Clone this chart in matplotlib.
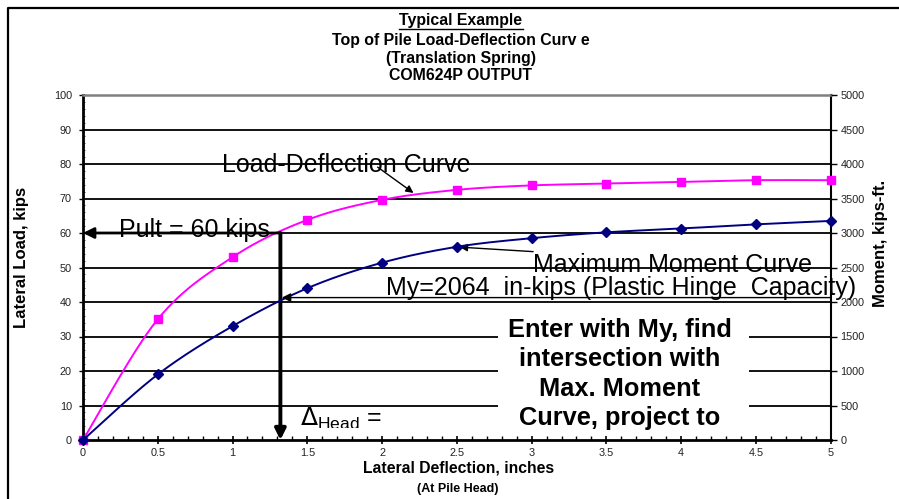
import numpy as np
import matplotlib
matplotlib.use("Agg")
import matplotlib.pyplot as plt
from matplotlib.lines import Line2D
from matplotlib.patches import Rectangle

plt.rcParams['font.family'] = ['Liberation Sans', 'DejaVu Sans']

# Deflection at pile head (inches)
deflection = [0, 0.5, 1.0, 1.5, 2.0, 2.5, 3.0, 3.5, 4.0, 4.5, 5.0]
# Lateral load (kips) - load-deflection curve
lateral_load = [0, 35, 53, 63.8, 69.6, 72.5, 73.8, 74.3, 74.8, 75.3, 75.3]
# Maximum moment (kips-ft) - moment curve, right axis
max_moment = [0, 950, 1650, 2200, 2570, 2800, 2925, 3010, 3065, 3125, 3175]

load_ticks = list(range(0, 101, 10))
moment_ticks = list(range(0, 5001, 500))
defl_ticks = [0, 0.5, 1, 1.5, 2, 2.5, 3, 3.5, 4, 4.5, 5]
defl_tick_labels = ['0', '0.5', '1', '1.5', '2', '2.5', '3', '3.5', '4', '4.5', '5']

p_ult = 60            # kips
defl_at_pult = 1.32   # inches
my_capacity = 2064    # plastic hinge capacity
defl_at_my = 1.33


def smooth(x, y, n=30):
    """Catmull-Rom style smoothing through every point."""
    x = np.asarray(x, float)
    y = np.asarray(y, float)
    px = np.concatenate([[x[0]], x, [x[-1]]])
    py = np.concatenate([[y[0]], y, [y[-1]]])
    xs, ys = [], []
    t = np.linspace(0, 1, n)
    for i in range(1, len(px) - 2):
        p0 = np.array([px[i], py[i]])
        p3 = np.array([px[i + 1], py[i + 1]])
        c1 = p0 + (p3 - np.array([px[i - 1], py[i - 1]])) / 6.0
        c2 = p3 - (np.array([px[i + 2], py[i + 2]]) - p0) / 6.0
        b = ((1 - t) ** 3)[:, None] * p0 + (3 * (1 - t) ** 2 * t)[:, None] * c1 \
            + (3 * (1 - t) * t ** 2)[:, None] * c2 + (t ** 3)[:, None] * p3
        xs.append(b[:, 0])
        ys.append(b[:, 1])
    return np.concatenate(xs), np.concatenate(ys)


W, H = 899, 499
fig = plt.figure(figsize=(W / 100, H / 100), dpi=100)
fig.patch.set_facecolor('white')

# outer frame
fig.add_artist(Line2D([8 / W, 8 / W, 1.0], [0.0, 1 - 8 / H, 1 - 8 / H],
                      transform=fig.transFigure, color='black', lw=1.6))

ax = fig.add_axes([83 / W, 59 / H, 747.7 / W, 345 / H])
ax.set_xlim(0, 5)
ax.set_ylim(0, 100)
ax.set_axisbelow(True)

ax.set_yticks(load_ticks)
ax.set_yticks(np.arange(0, 101, 2), minor=True)
ax.set_xticks(defl_ticks)
ax.set_xticklabels(defl_tick_labels)
ax.set_xticks(np.arange(0, 5.01, 0.1), minor=True)

ax.grid(axis='y', which='major', color='black', lw=1.3)
gl = ax.yaxis.get_gridlines()
gl[0].set_visible(False)
gl[-1].set_visible(False)

tick_color = '#222222'
ax.tick_params(axis='y', which='major', direction='out', length=3, width=1,
               labelsize=7.8, labelcolor=tick_color, pad=5)
ax.tick_params(axis='y', which='minor', direction='in', length=1.5, width=0.7,
               color='#555555')
ax.tick_params(axis='x', which='major', direction='inout', length=6, width=1.2,
               labelsize=7.8, labelcolor=tick_color, pad=3)
ax.tick_params(axis='x', which='minor', direction='in', length=3, width=1)

for side, lw, col in [('left', 2.0, 'black'), ('bottom', 2.0, 'black'),
                      ('right', 1.5, 'black'), ('top', 1.8, '#808080')]:
    ax.spines[side].set_linewidth(lw)
    ax.spines[side].set_color(col)

ax2 = ax.twinx()
ax2.set_ylim(0, 5000)
ax2.set_yticks(moment_ticks)
ax2.tick_params(axis='y', direction='out', length=4, width=1,
                labelsize=7.8, labelcolor=tick_color, pad=3)
for s in ax2.spines.values():
    s.set_visible(False)

# curves
sx, sy = smooth(deflection, lateral_load)
ax.plot(sx, sy, color='#FF00FF', lw=1.4, zorder=4)
ax.plot(deflection, lateral_load, ls='none', marker='s', ms=5.2,
        color='#FF00FF', zorder=5, clip_on=False)

mx, my = smooth(deflection, max_moment)
ax2.plot(mx, my, color='#000080', lw=1.4, zorder=4)
ax2.plot(deflection, max_moment, ls='none', marker='D', ms=4.6,
         color='#000080', zorder=5, clip_on=False)

# axis titles
fig.text(22 / W, 1 - 257 / H, 'Lateral Load, kips', rotation=90, fontsize=12,
         fontweight='bold', ha='center', va='center')
fig.text(881 / W, 1 - 243 / H, 'Moment, kips-ft.', rotation=90, fontsize=12,
         fontweight='bold', ha='center', va='center')
fig.text(459 / W, 1 - 468 / H, 'Lateral Deflection, inches', fontsize=11.3,
         fontweight='bold', ha='center', va='center')
fig.text(458 / W, 1 - 489 / H, '(At Pile Head)', fontsize=9,
         fontweight='bold', ha='center', va='center')

# chart title block
title_lines = ['Typical Example', 'Top of Pile Load-Deflection Curv e',
               '(Translation Spring)', 'COM624P OUTPUT']
title_y = [20.5, 40.7, 58.3, 75.0]
title_objs = []
for txt, yy in zip(title_lines, title_y):
    title_objs.append(fig.text(461 / W, 1 - yy / H, txt, fontsize=11.4,
                               fontweight='bold', ha='center', va='center'))

# annotations
ann_kw = dict(fontsize=18, color='black', zorder=6)
ax.text(0.93, 77.7, 'Load-Deflection Curve', ha='left', va='baseline', **ann_kw)
ax.annotate('', xy=(2.21, 71.6), xytext=(1.97, 79.1),
            arrowprops=dict(arrowstyle='-|>', color='black', lw=1.0,
                            mutation_scale=11, shrinkA=0, shrinkB=0), zorder=6)

ax.text(0.24, 58.8, 'Pult = 60 kips', ha='left', va='baseline', **ann_kw)
ax.annotate('', xy=(0, p_ult), xytext=(defl_at_pult, p_ult),
            arrowprops=dict(arrowstyle='-|>', color='black', lw=2.0,
                            mutation_scale=16, shrinkA=0, shrinkB=0),
            zorder=6, annotation_clip=False)
ax.annotate('', xy=(defl_at_pult, 0), xytext=(defl_at_pult, p_ult),
            arrowprops=dict(arrowstyle='-|>', color='black', lw=2.8,
                            mutation_scale=16, shrinkA=0, shrinkB=0), zorder=6)

ax.text(3.01, 48.8, 'Maximum Moment Curve', ha='left', va='baseline', **ann_kw)
ax.annotate('', xy=(2.52, 55.9), xytext=(3.01, 54.6),
            arrowprops=dict(arrowstyle='-|>', color='black', lw=1.0,
                            mutation_scale=11, shrinkA=0, shrinkB=0), zorder=6)

ax.text(2.027, 42.0, 'My=2064  in-kips (Plastic Hinge  Capacity)',
        ha='left', va='baseline', **ann_kw)
ax2.annotate('', xy=(defl_at_my, my_capacity), xytext=(5, my_capacity),
             arrowprops=dict(arrowstyle='-|>', color='black', lw=1.0,
                             mutation_scale=13, shrinkA=0, shrinkB=0), zorder=6)

delta = ax.text(1.45, 4.06, r'$\Delta_{\mathregular{Head}}$ =', ha='left',
                va='baseline', clip_on=True, **ann_kw)
delta.set_clip_path(Rectangle((1.3, 3.4), 2.0, 20, transform=ax.transData))

# note box
ax.add_patch(Rectangle((2.776, 1.5), 4.455 - 2.776, 37.0, facecolor='white',
                       edgecolor='none', zorder=1))
note_lines = ['Enter with My, find', 'intersection with', 'Max. Moment',
              'Curve, project to']
note_y = [31.9, 23.6, 14.9, 6.5]
for txt, yy in zip(note_lines, note_y):
    ax.text(3.59, yy, txt, ha='center', va='center', fontsize=18.3,
            fontweight='bold', zorder=6)

# underline for the first title line
fig.canvas.draw()
bb = title_objs[0].get_window_extent(fig.canvas.get_renderer())
uy = bb.y0 - 0.5
fig.add_artist(Line2D([bb.x0 / W, bb.x1 / W], [uy / H, uy / H],
                      transform=fig.transFigure, color='black', lw=1.0))

fig.savefig('out.png', dpi=100)
